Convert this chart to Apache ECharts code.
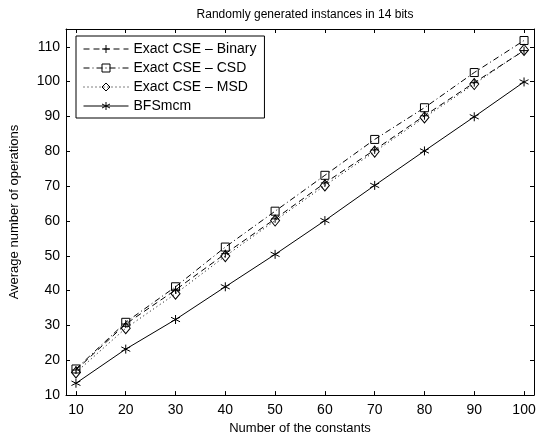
<!DOCTYPE html>
<html>
<head>
<meta charset="utf-8">
<script src="https://cdn.jsdelivr.net/npm/echarts@6/dist/echarts.min.js"></script>
<style>html,body{margin:0;padding:0;background:#fff}#c{width:542px;height:440px}</style>
</head>
<body>
<div id="c"></div>
<script>
var constants = [10, 20, 30, 40, 50, 60, 70, 80, 90, 100];
var binary = [17.2, 30.4, 40.2, 50.6, 60.6, 70.9, 80.4, 90.2, 99.7, 108.9];
var csd = [17.5, 30.9, 41.1, 52.5, 62.8, 73.1, 83.4, 92.5, 102.6, 111.8];
var msd = [16.5, 29.2, 39.1, 49.9, 60.1, 70.2, 79.9, 89.7, 99.3, 109.1];
var bfs = [13.4, 23.2, 31.7, 41.1, 50.4, 60.1, 70.2, 80.1, 89.9, 99.9];
var xTicks = [10, 20, 30, 40, 50, 60, 70, 80, 90, 100];
var yTicks = [10, 20, 30, 40, 50, 60, 70, 80, 90, 100, 110];
var names = ['Exact CSE \u2013 Binary', 'Exact CSE \u2013 CSD', 'Exact CSE \u2013 MSD', 'BFSmcm'];

function pairs(arr) { return constants.map(function (c, i) { return [c, arr[i]]; }); }
var FONT = 'Liberation Sans';
var plusPath = 'path://M5,0L5,10M0,5L10,5';
var starPath = 'path://M5,0L5,10M0.67,2.5L9.33,7.5M0.67,7.5L9.33,2.5';

function mk(name, data, dash, symbol, size) {
  return {
    name: name, type: 'line', data: pairs(data),
    xAxisIndex: 0, yAxisIndex: 0,
    symbol: symbol, symbolSize: size, showAllSymbol: true,
    lineStyle: { color: '#000', width: 1, type: dash },
    itemStyle: { color: 'rgba(0,0,0,0)', borderColor: '#000', borderWidth: 1 },
    emphasis: { disabled: true },
    animation: false
  };
}

var chart = echarts.init(document.getElementById('c'), null, { renderer: 'canvas' });
var axisCommon = {
  axisLine: { show: true, onZero: false, lineStyle: { color: '#000', width: 1 } },
  splitLine: { show: false }
};
chart.setOption({
  backgroundColor: '#fff',
  animation: false,
  title: {
    text: 'Randomly generated instances in 14 bits',
    left: 300, top: 4, textAlign: 'center',
    textStyle: { fontFamily: FONT, fontSize: 12, fontWeight: 'normal', color: '#000' }
  },
  grid: { left: 66, right: 8, top: 29, bottom: 42 },
  legend: {
    orient: 'vertical', left: 76, top: 36,
    padding: [6, 8, 5, 7],
    itemWidth: 45, itemHeight: 10, itemGap: 5,
    backgroundColor: '#fff', borderColor: '#000', borderWidth: 1,
    lineStyle: { width: 1 },
    itemStyle: { borderWidth: 1 },
    textStyle: { fontFamily: FONT, fontSize: 14, color: '#000' },
    data: names
  },
  xAxis: [
    Object.assign({
      type: 'value', min: 8, max: 102, position: 'bottom',
      name: 'Number of the constants', nameLocation: 'middle', nameGap: 25,
      nameTextStyle: { fontFamily: FONT, fontSize: 13, color: '#000' },
      axisTick: { show: true, inside: true, length: 4, customValues: xTicks, lineStyle: { color: '#000' } },
      axisLabel: { fontFamily: FONT, fontSize: 14, color: '#000', margin: 8, customValues: xTicks }
    }, axisCommon),
    Object.assign({
      type: 'value', min: 8, max: 102, position: 'top',
      axisTick: { show: true, inside: true, length: 4, customValues: xTicks, lineStyle: { color: '#000' } },
      axisLabel: { show: false }
    }, axisCommon)
  ],
  yAxis: [
    Object.assign({
      type: 'value', min: 10, max: 115.1, position: 'left',
      name: 'Average number of operations', nameLocation: 'middle', nameGap: 45,
      nameTextStyle: { fontFamily: FONT, fontSize: 13, color: '#000' },
      axisTick: { show: true, inside: true, length: 4, customValues: yTicks, lineStyle: { color: '#000' } },
      axisLabel: { fontFamily: FONT, fontSize: 14, color: '#000', margin: 6, customValues: yTicks }
    }, axisCommon),
    Object.assign({
      type: 'value', min: 10, max: 115.1, position: 'right',
      axisTick: { show: true, inside: true, length: 4, customValues: yTicks, lineStyle: { color: '#000' } },
      axisLabel: { show: false }
    }, axisCommon)
  ],
  series: [
    mk(names[0], binary, [6, 4], plusPath, 8),
    mk(names[1], csd, [6, 3, 1, 3], 'rect', 8),
    mk(names[2], msd, [1, 3], 'diamond', [9, 11]),
    mk(names[3], bfs, 'solid', starPath, 9)
  ]
});
</script>
</body>
</html>
